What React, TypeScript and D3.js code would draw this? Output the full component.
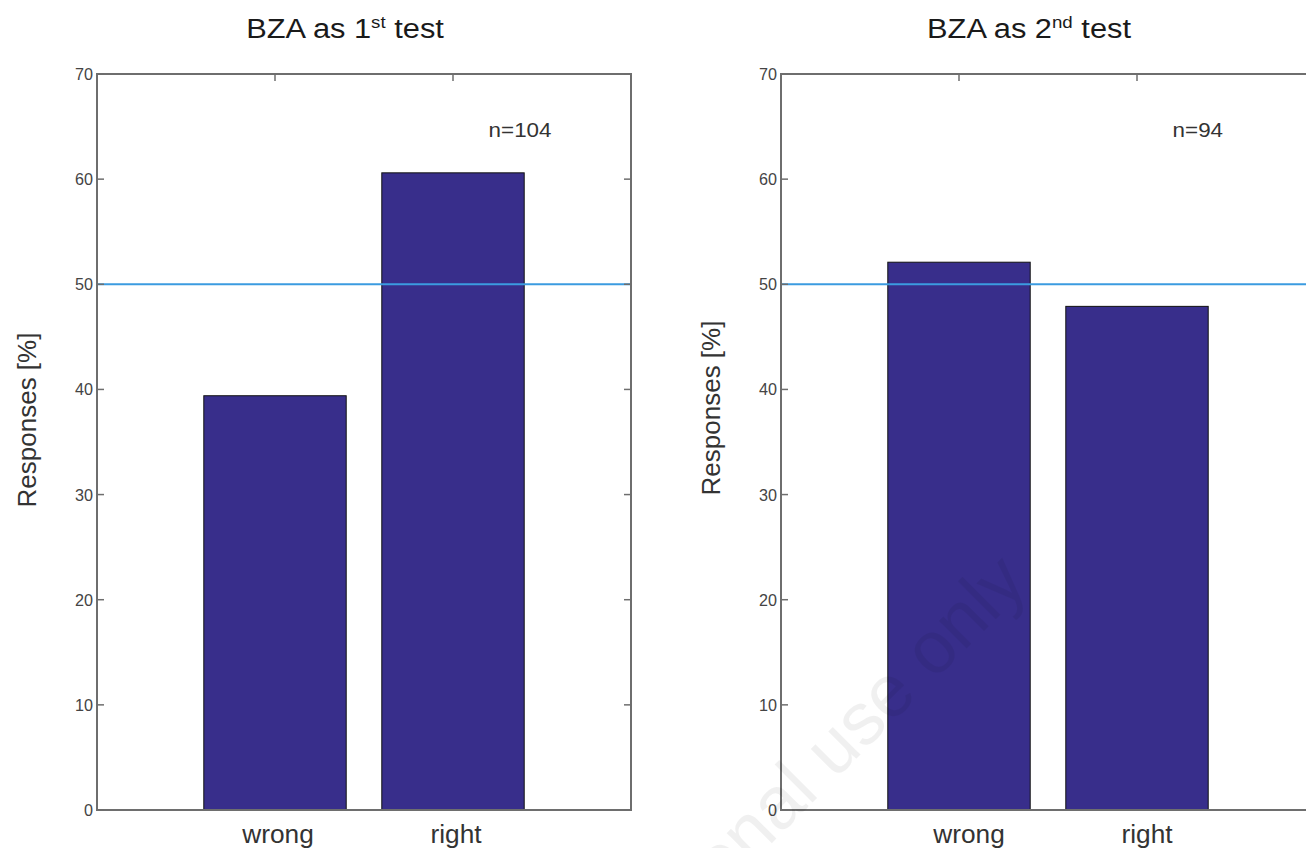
import React from "react";
import * as d3 from "d3";

const categories = ["wrong", "right"];
const firstTestValues = [39.4, 60.6];
const secondTestValues = [52.1, 47.9];
const yTicks = [0, 10, 20, 30, 40, 50, 60, 70];
const chanceLevel = 50;
const sampleSizes = [104, 94];

const W = 1306;
const H = 848;
const FONT = "'Liberation Sans', Arial, sans-serif";
const BAR_FILL = "#382e8b";
const AXIS = "#6e6e6e";

interface PanelProps {
  left: number;
  values: number[];
  n: number;
  num: string;
  ordinal: string;
  labelY: number;
  tickShift: number;
}

function Panel({ left, values, n, num, ordinal, labelY, tickShift }: PanelProps) {
  const top = 74;
  const bottom = 810;
  const width = 534;

  // matlab-like axes: categories sit at 1, 2 with xlim [0, 3]
  const x = d3.scaleLinear().domain([0, 3]).range([left, left + width]);
  const y = d3.scaleLinear().domain([0, 70]).range([bottom, top]);
  const barW = x(0.8) - x(0);
  const right = left + width;

  return (
    <g>
      <text
        transform={`translate(${left + width / 2 - 19},38) scale(1.1,1)`}
        textAnchor="middle"
        fontFamily={FONT}
        fontSize={28}
        fill="#1a1a1a"
      >
        BZA as {num}
        <tspan fontSize={17} dy={-10}>
          {ordinal}
        </tspan>
        <tspan dy={10}> test</tspan>
      </text>

      {/* bars */}
      {values.map((v, i) => (
        <rect
          key={categories[i]}
          x={x(i + 1) - barW / 2}
          y={y(v)}
          width={barW}
          height={y(0) - y(v)}
          fill={BAR_FILL}
          stroke="#111"
          strokeWidth={1}
        />
      ))}

      {/* chance line */}
      <line
        x1={left}
        x2={right}
        y1={y(chanceLevel)}
        y2={y(chanceLevel)}
        stroke="#3b9be0"
        strokeWidth={2}
      />

      {/* axes box */}
      <rect
        x={left}
        y={top}
        width={width}
        height={bottom - top}
        fill="none"
        stroke={AXIS}
        strokeWidth={2}
      />

      {yTicks.map((t) => (
        <g key={t}>
          <line x1={left} x2={left + 7} y1={y(t)} y2={y(t)} stroke={AXIS} strokeWidth={1.5} />
          <line x1={right} x2={right - 7} y1={y(t)} y2={y(t)} stroke={AXIS} strokeWidth={1.5} />
          <text
            transform={`translate(${left - 4},${y(t) + 6}) scale(0.95,1)`}
            textAnchor="end"
            fontFamily={FONT}
            fontSize={17}
            fill="#444"
          >
            {t}
          </text>
        </g>
      ))}

      {categories.map((c, i) => (
        <g key={c}>
          <line x1={x(i + 1)} x2={x(i + 1)} y1={top} y2={top + 7} stroke={AXIS} strokeWidth={1.5} />
          <text
            transform={`translate(${x(i + 1) + tickShift},843) scale(1.05,1)`}
            textAnchor="middle"
            fontFamily={FONT}
            fontSize={25}
            fill="#333"
          >
            {c}
          </text>
        </g>
      ))}

      <text
        transform={`translate(${x(2.2)},${y(64)}) scale(1.12,1)`}
        fontFamily={FONT}
        fontSize={20}
        fill="#333"
      >
        n={n}
      </text>

      <text
        transform={`translate(${left - 61},${labelY}) rotate(-90)`}
        textAnchor="middle"
        fontFamily={FONT}
        fontSize={26}
        fill="#333"
      >
        Responses [%]
      </text>
    </g>
  );
}

export default function App() {
  return (
    <svg
      width={W}
      height={H}
      style={{ position: "fixed", left: 0, top: 0, background: "#fff" }}
    >
      <rect width={W} height={H} fill="#fff" />
      <Panel left={97} values={firstTestValues} n={sampleSizes[0]} num="1" ordinal="st" labelY={420} tickShift={3} />
      <Panel left={781} values={secondTestValues} n={sampleSizes[1]} num="2" ordinal="nd" labelY={408} tickShift={10} />
      <text
        transform="translate(1030,585) rotate(-45)"
        textAnchor="end"
        fontFamily={FONT}
        fontSize={74}
        fill="#000"
        fillOpacity={0.06}
      >
        For personal use only
      </text>
    </svg>
  );
}
